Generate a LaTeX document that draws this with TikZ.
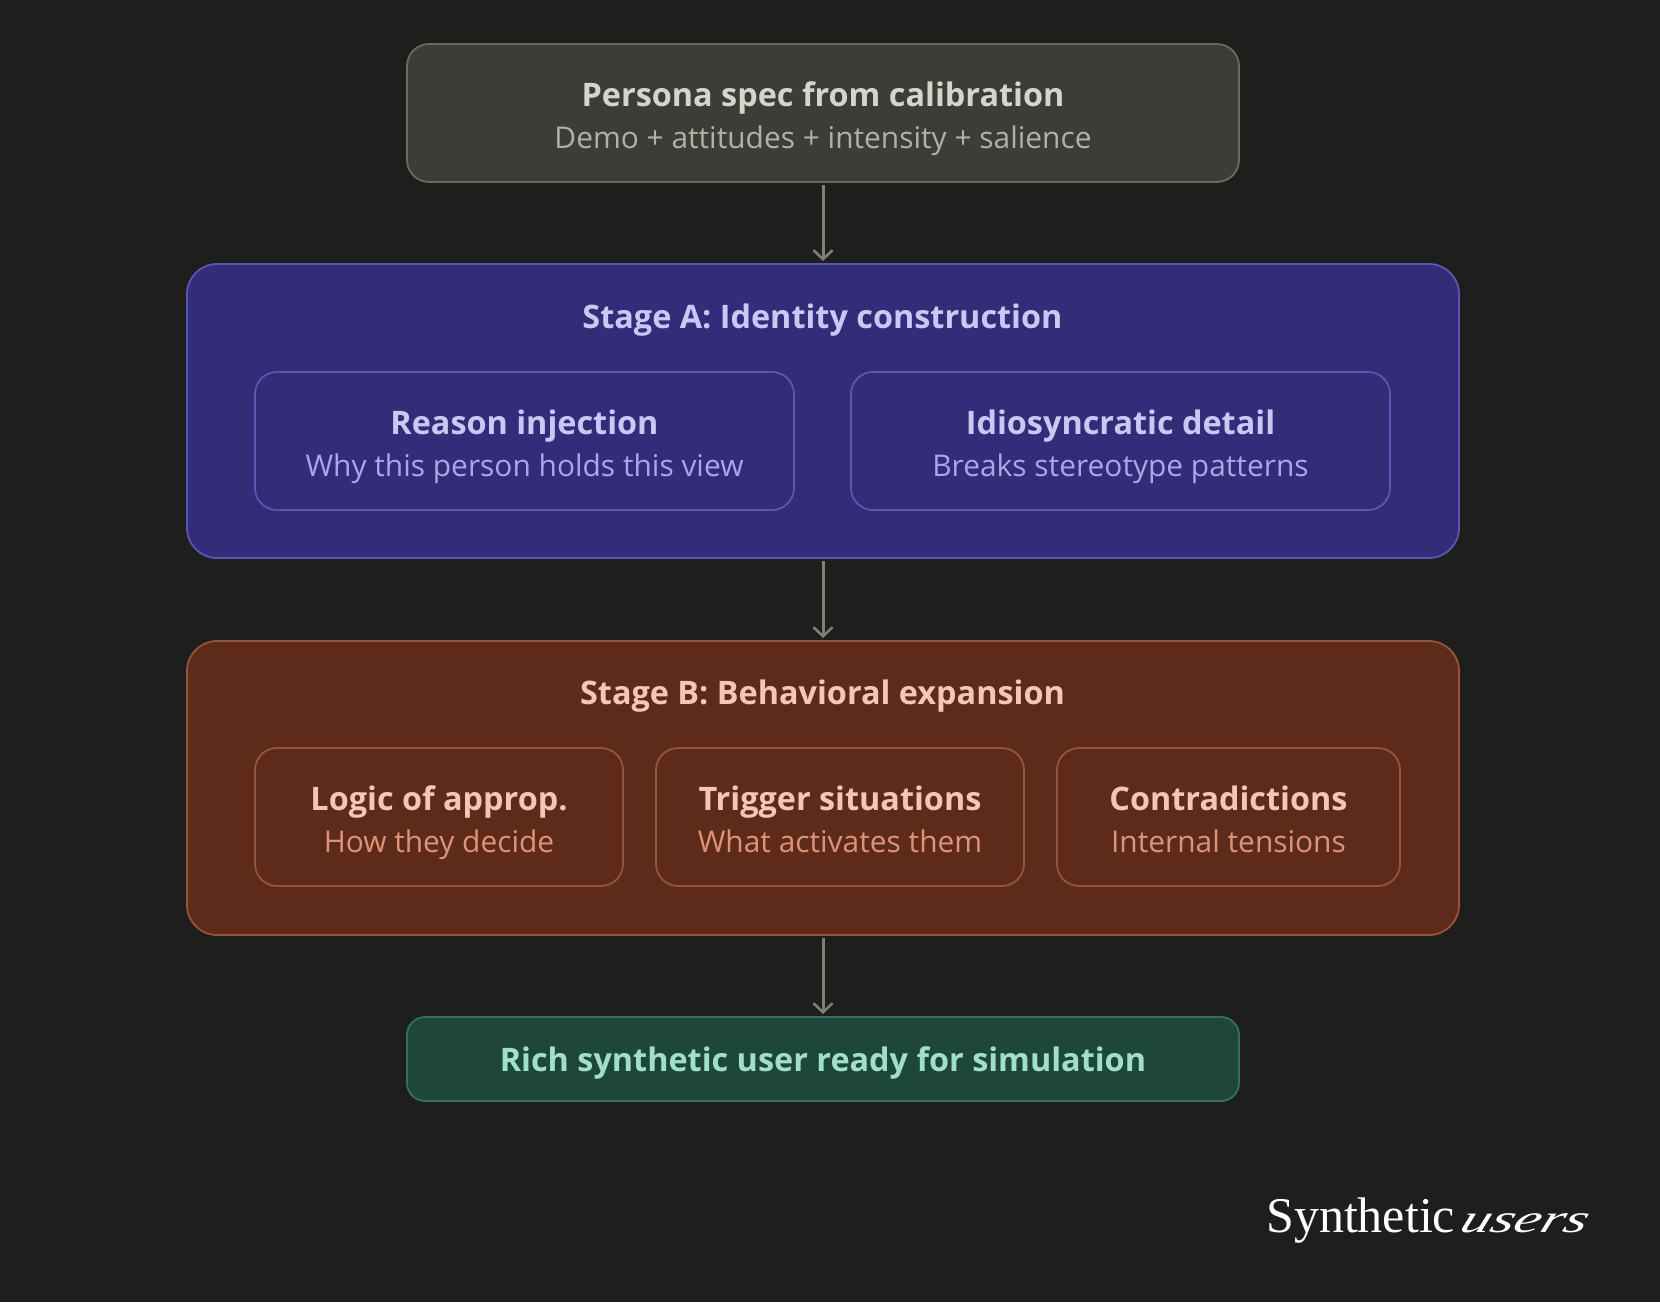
\documentclass[tikz,border=0pt]{standalone}
\usepackage{fontspec}
\setmainfont{Open Sans}
\newfontfamily\logofont{Liberation Serif}
\usetikzlibrary{arrows.meta, positioning, calc}

\definecolor{pagebg}{HTML}{1E1E1C}
\definecolor{greyfill}{HTML}{3D3D38}
\definecolor{greyline}{HTML}{6A6963}
\definecolor{greyhead}{HTML}{D6D4CB}
\definecolor{greysub}{HTML}{B2B0A7}
\definecolor{bluefill}{HTML}{332C78}
\definecolor{blueline}{HTML}{5D55B4}
\definecolor{bluehead}{HTML}{CBC7F5}
\definecolor{bluesub}{HTML}{ABA6E8}
\definecolor{redfill}{HTML}{5E2B1B}
\definecolor{redline}{HTML}{97543D}
\definecolor{redhead}{HTML}{F3C6B5}
\definecolor{redsub}{HTML}{DC9478}
\definecolor{greenfill}{HTML}{1F463A}
\definecolor{greenline}{HTML}{34705B}
\definecolor{greenhead}{HTML}{A0E0C9}
\definecolor{flowline}{HTML}{7F7E77}

\newcommand{\boxhead}[1]{\rule{0pt}{36pt}{\fontsize{32.4}{42.5}\selectfont\bfseries #1}}
\newcommand{\boxsub}[2]{{\fontsize{29.9}{42.5}\selectfont\color{#1}#2}\rule[-7pt]{0pt}{7pt}}

\tikzset{
    panel/.style={draw, line width=1.8pt, outer sep=0pt, inner sep=0pt, align=center,
        font=\fontsize{32.4}{42.5}\selectfont, rounded corners=#1},
    greybox/.style={panel=22pt, draw=greyline, fill=greyfill, text=greyhead},
    stagebluebox/.style={panel=30pt, draw=blueline, fill=bluefill},
    stageredbox/.style={panel=30pt, draw=redline, fill=redfill},
    blueinner/.style={panel=22pt, draw=blueline, fill=bluefill, text=bluehead},
    redinner/.style={panel=22pt, draw=redline, fill=redfill, text=redhead},
    greenbox/.style={panel=18pt, draw=greenline, fill=greenfill, text=greenhead},
    flow/.style={draw=flowline, line width=3pt, shorten <=3pt, shorten >=3pt,
        -{Straight Barb[length=9pt, width=19pt, line width=2.6pt]}},
}

\begin{document}
\begin{tikzpicture}[x=1pt, y=-1pt]
    \fill[pagebg] (0,0) rectangle (1660,1302);
    \useasboundingbox (0,0) rectangle (1660,1302);

    % top and bottom
    \node[greybox, minimum width=832pt, minimum height=138pt] (persona) at (823,113)
        {\boxhead{Persona spec from calibration}\\\boxsub{greysub}{Demo + attitudes + intensity + salience}};
    \node[greenbox, minimum width=832pt, minimum height=84pt] (ready) at (823,1059)
        {\boxhead{Rich synthetic user ready for simulation}\rule[-12pt]{0pt}{12pt}};

    % stages
    \node[stagebluebox, minimum width=1272pt, minimum height=294pt] (stagea) at (823,411) {};
    \node[text=bluehead] (stageahead) at (822.5,314) {\boxhead{Stage A: Identity construction}};
    \node[stageredbox, minimum width=1272pt, minimum height=294pt] (stageb) at (823,788) {};
    \node[text=redhead] (stagebhead) at (822.5,690.5) {\boxhead{Stage B: Behavioral expansion}};

    % inner boxes
    \node[blueinner, minimum width=539pt, minimum height=138pt] (reason) at (524.5,441)
        {\boxhead{Reason injection}\\\boxsub{bluesub}{Why this person holds this view}};
    \node[blueinner, minimum width=539pt, minimum height=138pt] (idio) at (1120.5,441)
        {\boxhead{Idiosyncratic detail}\\\boxsub{bluesub}{Breaks stereotype patterns}};
    \node[redinner, minimum width=368pt, minimum height=138pt] (logic) at (439,817)
        {\boxhead{Logic of approp.}\\\boxsub{redsub}{How they decide}};
    \node[redinner, minimum width=368pt, minimum height=138pt] (trigger) at (840,817)
        {\boxhead{Trigger situations}\\\boxsub{redsub}{What activates them}};
    \node[redinner, minimum width=343pt, minimum height=138pt] (contra) at (1228.5,817)
        {\boxhead{Contradictions}\\\boxsub{redsub}{Internal tensions}};

    % arrows
    \draw[flow] (persona) -- (stagea);
    \draw[flow] (stagea) -- (stageb);
    \draw[flow] (stageb) -- (ready);

    % logo
    \node[text=white, anchor=base west, inner sep=0pt, font=\logofont\fontsize{50}{54}\selectfont] (brand) at (1266,1232) {Synthetic};
    \node[text=white, anchor=base west, inner sep=0pt, xslant=0.35, xscale=1.5, font=\itshape\fontsize{40}{44}\selectfont\logofont] (brandusers) at ([xshift=3pt]brand.base east) {users};
\end{tikzpicture}
\end{document}
